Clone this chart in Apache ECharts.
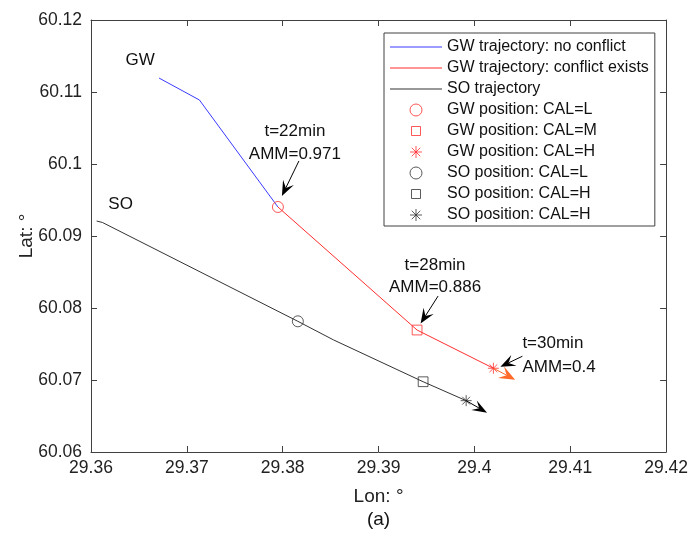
<!DOCTYPE html>
<html>
<head>
<meta charset="utf-8">
<script src="https://cdn.jsdelivr.net/npm/echarts@6/dist/echarts.min.js"></script>
<style>
html, body { margin: 0; padding: 0; background: #fff; }
#chart { width: 691px; height: 536px; }
</style>
</head>
<body>
<div id="chart"></div>
<script>
// Axis ranges and ticks (degrees)
const lonTicks = [29.36, 29.37, 29.38, 29.39, 29.40, 29.41, 29.42];
const latTicks = [60.06, 60.07, 60.08, 60.09, 60.10, 60.11, 60.12];

// Trajectories as [lon, lat]
const gwClear = [[29.3671, 60.11194], [29.37131, 60.10889], [29.3795, 60.09403]];
const gwConflict = [[29.3795, 60.09403], [29.39402, 60.07694], [29.40198, 60.07163]];
const soTrack = [[29.36059, 60.09208], [29.36119, 60.09188], [29.38158, 60.07815],
                 [29.38531, 60.07556], [29.39465, 60.06976], [29.39914, 60.06713]];

// Positions at the sampled instants
const gwPosL = [29.3795, 60.09403];
const gwPosM = [29.39402, 60.07694];
const gwPosH = [29.40198, 60.07163];
const soPosL = [29.38158, 60.07815];
const soPosM = [29.39465, 60.06976];
const soPosH = [29.39914, 60.06713];

// Heading arrow end points
const gwHeading = [29.40425, 60.07005];
const soHeading = [29.40132, 60.06546];

// Annotation texts
const noteTimes = ['t=22min', 't=28min', 't=30min'];
const noteAmm = ['AMM=0.971', 'AMM=0.886', 'AMM=0.4'];

// Legend entries (key -> shown text)
const legendKeys = ['gwClear', 'gwConflict', 'soTrack', 'gwL', 'gwM', 'gwH', 'soL', 'soM', 'soH'];
const legendText = ['GW trajectory: no conflict', 'GW trajectory: conflict exists', 'SO trajectory',
                    'GW position: CAL=L', 'GW position: CAL=M', 'GW position: CAL=H',
                    'SO position: CAL=L', 'SO position: CAL=H', 'SO position: CAL=H'];

const FONT = '"Liberation Sans", Arial, sans-serif';
const BLUE = '#3b3bff';
const RED = '#ff2e2e';
const DARK = '#333333';
const ORANGE = '#ff6a2a';
const AXIS = '#404040';
const STAR = 'path://M0,-10L0,10M-10,0L10,0M-7.07,-7.07L7.07,7.07M-7.07,7.07L7.07,-7.07';
// square outline with a little margin so it reads smaller than the circle
const SQUARE = 'path://M-6,-6M6,6M-4.5,-4.5H4.5V4.5H-4.5Z';
const LINE_ICON = 'path://M0,0H52V1H0Z';

function marker(key, pos, symbol, size, color) {
  return {
    name: key, type: 'scatter', data: [pos], symbol: symbol, symbolSize: size,
    itemStyle: { color: 'rgba(0,0,0,0)', borderColor: color, borderWidth: 1 },
    z: 5, silent: true
  };
}
function track(key, data, color) {
  return {
    name: key, type: 'line', data: data, symbol: 'none', showSymbol: false,
    lineStyle: { color: color, width: 1 }, itemStyle: { color: color },
    z: 3, silent: true
  };
}

const axisCommon = {
  type: 'value',
  interval: 0.01,
  axisLine: { show: true, lineStyle: { color: AXIS, width: 1 } },
  axisTick: { show: true, inside: true, length: 6, lineStyle: { color: AXIS } },
  splitLine: { show: false }
};

const legendData = legendKeys.map((k, i) => i < 3
  ? { name: k, icon: LINE_ICON, itemStyle: { borderWidth: 0 } }
  : { name: k });

const chart = echarts.init(document.getElementById('chart'), null, { renderer: 'canvas' });
chart.setOption({
  animation: false,
  backgroundColor: '#fff',
  grid: { left: 91, right: 22, top: 20, bottom: 84 },
  xAxis: [
    Object.assign({}, axisCommon, {
      min: lonTicks[0], max: lonTicks[lonTicks.length - 1], position: 'bottom',
      name: 'Lon: °', nameLocation: 'middle', nameGap: 35, nameMoveOverlap: false,
      nameTextStyle: { fontSize: 19, fontFamily: FONT, color: '#222' },
      axisLabel: { fontSize: 17.5, fontFamily: FONT, color: '#222', margin: 7 }
    }),
    Object.assign({}, axisCommon, {
      min: lonTicks[0], max: lonTicks[lonTicks.length - 1], position: 'top',
      axisLabel: { show: false }
    })
  ],
  yAxis: [
    Object.assign({}, axisCommon, {
      min: latTicks[0], max: latTicks[latTicks.length - 1], position: 'left',
      name: 'Lat: °', nameLocation: 'middle', nameGap: 55, nameMoveOverlap: false,
      nameTextStyle: { fontSize: 19, fontFamily: FONT, color: '#222' },
      axisLabel: { fontSize: 17.5, fontFamily: FONT, color: '#222', margin: 9 }
    }),
    Object.assign({}, axisCommon, {
      min: latTicks[0], max: latTicks[latTicks.length - 1], position: 'right',
      axisLabel: { show: false }
    })
  ],
  legend: {
    orient: 'vertical', left: 384, top: 33,
    padding: [6, 6, 3, 6], itemGap: 5, itemWidth: 52, itemHeight: 12,
    borderColor: AXIS, borderWidth: 1, backgroundColor: '#fff',
    selectedMode: false,
    textStyle: { fontSize: 16, fontFamily: FONT, color: '#111', lineHeight: 16 },
    itemStyle: { borderWidth: 1 },
    data: legendData,
    formatter: function (name) { return legendText[legendKeys.indexOf(name)]; }
  },
  series: [
    track('gwClear', gwClear, BLUE),
    track('gwConflict', gwConflict, RED),
    track('soTrack', soTrack, DARK),
    marker('gwL', gwPosL, 'circle', 11, RED),
    marker('gwM', gwPosM, SQUARE, 13, RED),
    marker('gwH', gwPosH, STAR, 11, RED),
    marker('soL', soPosL, 'circle', 11, DARK),
    marker('soM', soPosM, SQUARE, 13, DARK),
    marker('soH', soPosH, STAR, 11, DARK)
  ]
});

// Overlay: arrows and text placed through the axis scales
function px(p) { return chart.convertToPixel({ gridIndex: 0 }, p); }

function arrow(from, tip, len, wid, color, z) {
  const dx = tip[0] - from[0], dy = tip[1] - from[1];
  const d = Math.hypot(dx, dy) || 1;
  const ux = dx / d, uy = dy / d, nx = -uy, ny = ux;
  const bx = tip[0] - ux * len, by = tip[1] - uy * len;
  const kx = tip[0] - ux * len * 0.6, ky = tip[1] - uy * len * 0.6;
  const out = [];
  if (d > len * 0.6) {
    out.push({ type: 'line', z: z, silent: true,
      shape: { x1: from[0], y1: from[1], x2: kx, y2: ky },
      style: { stroke: color, lineWidth: 1 } });
  }
  out.push({ type: 'polygon', z: z, silent: true,
    shape: { points: [tip, [bx + nx * wid / 2, by + ny * wid / 2], [kx, ky], [bx - nx * wid / 2, by - ny * wid / 2]] },
    style: { fill: color } });
  return out;
}

function text(str, x, y, size, align) {
  return { type: 'text', x: x, y: y, z: 20, silent: true,
    style: { text: str, font: size + 'px ' + FONT, fill: '#111', align: align || 'center', verticalAlign: 'middle' } };
}

const g = [];
// heading arrows at the end of each trajectory
const gH = px(gwPosH), gT = px(gwHeading);
arrow(gH, gT, 16, 13, ORANGE, 12).forEach(e => g.push(e));
const sH = px(soPosH), sT = px(soHeading);
arrow(sH, sT, 15, 11, '#000', 12).forEach(e => g.push(e));

// text-arrow callouts: [marker, text dx, time dy, amm dy, tail, tip, align]
const callouts = [
  [gwPosL, 17, -76, -53, [21, -46], [4, -11], 'center'],
  [gwPosM, 18, -65, -43, [21, -34], [3.5, -6.5], 'center'],
  [gwPosH, 29, -25, -1, [29, -12], [7, -1.5], 'left']
];
callouts.forEach((c, i) => {
  const p = px(c[0]);
  g.push(text(noteTimes[i], p[0] + c[1], p[1] + c[2], 17, c[6]));
  g.push(text(noteAmm[i], p[0] + c[1], p[1] + c[3], 17, c[6]));
  arrow([p[0] + c[4][0], p[1] + c[4][1]], [p[0] + c[5][0], p[1] + c[5][1]], 15, 12, '#000', 15)
    .forEach(e => g.push(e));
});

// track names next to the starting points
const gs = px(gwClear[0]), ss = px(soTrack[0]);
g.push(text('GW', gs[0] - 19, gs[1] - 18, 17));
g.push(text('SO', ss[0] + 24, ss[1] - 17, 17));

// panel tag
const gridBottom = px([lonTicks[0], latTicks[0]]);
const gridRight = px([lonTicks[lonTicks.length - 1], latTicks[0]]);
g.push(text('(a)', (gridBottom[0] + gridRight[0]) / 2, gridBottom[1] + 68, 19));

chart.setOption({ graphic: g });
</script>
</body>
</html>
